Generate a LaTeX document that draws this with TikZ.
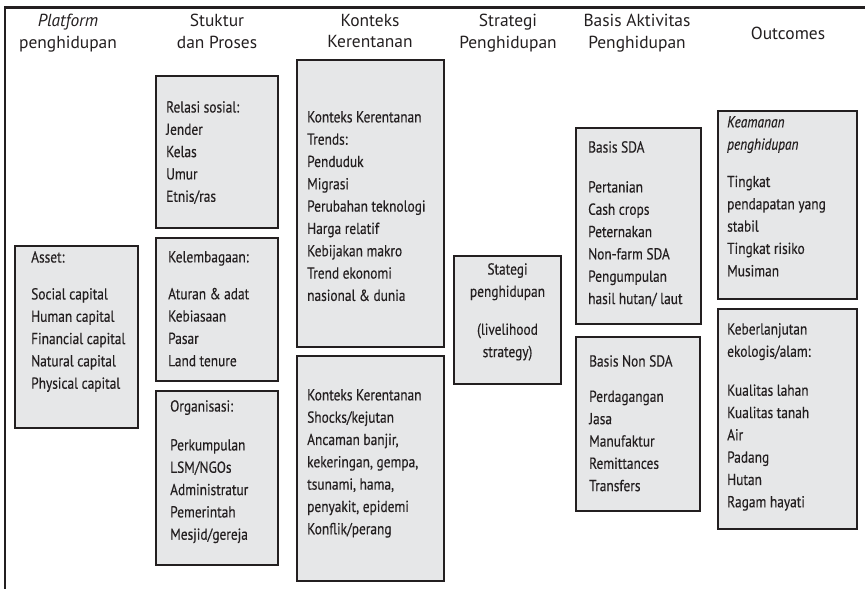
\documentclass[tikz,border=0pt]{standalone}
\usepackage{fontspec}
\setmainfont{PT Sans}
\newfontfamily\condfont{PT Sans}[FakeStretch=0.84, FakeBold=0.3]
\usetikzlibrary{fit}
\definecolor{boxgray}{HTML}{E6E7E8}
\definecolor{ink}{HTML}{231F20}
\begin{document}
\begin{tikzpicture}[x=1bp,y=-1bp,
  panel/.style={draw=ink, line width=1.2bp, fill=boxgray, inner sep=0pt},
  body/.style={font=\condfont\fontsize{16}{22.4}\selectfont, align=left,
    inner sep=0pt, anchor=north west, text=ink,
    execute at begin node=\rule{0pt}{14bp}},
  bodyc/.style={body, align=center, anchor=north},
  head/.style={font=\fontsize{17.5}{21.5}\selectfont, align=center,
    inner sep=0pt, anchor=north, text=ink,
    execute at begin node=\rule{0pt}{14bp}},
  frame/.style={draw=ink, line width=2.8bp}]
\useasboundingbox (0,0) rectangle (865,589);

% outer frame: top rule and left rule
\coordinate (frame-tl) at (5,7.5);
\coordinate (frame-tr) at (865,7.5);
\coordinate (frame-bl) at (5,589);
\draw[frame] (frame-tr) -- (frame-tl) -- (frame-bl);

% column headings
\node[head] (h-platform) at (68,14)  {\textit{Platform}\\penghidupan};
\node[head] (h-struktur) at (217,14) {Stuktur\\dan Proses};
\node[head] (h-konteks)  at (370,14) {Konteks\\Kerentanan};
\node[head] (h-strategi) at (508,14) {Strategi\\Penghidupan};
\node[head] (h-basis)    at (637,14) {Basis Aktivitas\\Penghidupan};
\node[head] (h-outcomes) at (788,25) {Outcomes};

% panels
\node[panel, fit={(15,246) (138,428)}]  (asset) {};
\node[panel, fit={(156,76) (278,228)}]  (relasi) {};
\node[panel, fit={(156,238) (278,381)}] (lembaga) {};
\node[panel, fit={(156,391) (278,565)}] (organisasi) {};
\node[panel, fit={(297,60) (444,347)}]  (trends) {};
\node[panel, fit={(297,356) (444,581)}] (shocks) {};
\node[panel, fit={(454,256) (561,384)}] (strategi) {};
\node[panel, fit={(576,128) (701,324)}] (sda) {};
\node[panel, fit={(576,337) (700,511)}] (nonsda) {};
\node[panel, fit={(718,111) (857,299)}] (keamanan) {};
\node[panel, fit={(718,309) (857,529)}] (lanjut) {};

% panel texts
\node[body] (asset-t) at (31,251) {Asset:\\[14.6bp]Social capital\\Human capital\\Financial capital\\Natural capital\\Physical capital};
\node[body] (relasi-t) at (166,101) {Relasi sosial:\\Jender\\Kelas\\Umur\\Etnis/ras};
\node[body] (lembaga-t) at (168,251) {Kelembagaan:\\[14.6bp]Aturan \& adat\\Kebiasaan\\Pasar\\Land tenure};
\node[body] (organisasi-t) at (170,400) {Organisasi:\\[16.6bp]Perkumpulan\\LSM/NGOs\\Administratur\\Pemerintah\\Mesjid/gereja};
\node[body] (trends-t) at (307,111) {Konteks Kerentanan\\Trends:\\Penduduk\\Migrasi\\Perubahan teknologi\\Harga relatif\\Kebijakan makro\\Trend ekonomi\\nasional \& dunia};
\node[body] (shocks-t) at (307,389) {Konteks Kerentanan\\Shocks/kejutan\\Ancaman banjir,\\kekeringan, gempa,\\tsunami, hama,\\penyakit, epidemi\\Konflik/perang};
\node[bodyc] (strategi-t) at (507.5,263) {Stategi\\penghidupan\\[15.6bp](livelihood\\strategy)};
\node[body] (sda-t) at (588,141) {Basis SDA\\[17.6bp]Pertanian\\Cash crops\\Peternakan\\Non-farm SDA\\Pengumpulan\\hasil hutan/ laut};
\node[body] (nonsda-t) at (589,355) {Basis Non SDA\\[13bp]Perdagangan\\Jasa\\Manufaktur\\Remittances\\Transfers};
\node[body] (keamanan-t) at (727,116) {\itshape Keamanan\\\itshape penghidupan\\[15bp]Tingkat\\pendapatan yang\\stabil\\Tingkat risiko\\Musiman};
\node[body] (lanjut-t) at (727,323) {Keberlanjutan\\ekologis/alam:\\[16.6bp]Kualitas lahan\\Kualitas tanah\\Air\\Padang\\Hutan\\Ragam hayati};
\end{tikzpicture}
\end{document}
